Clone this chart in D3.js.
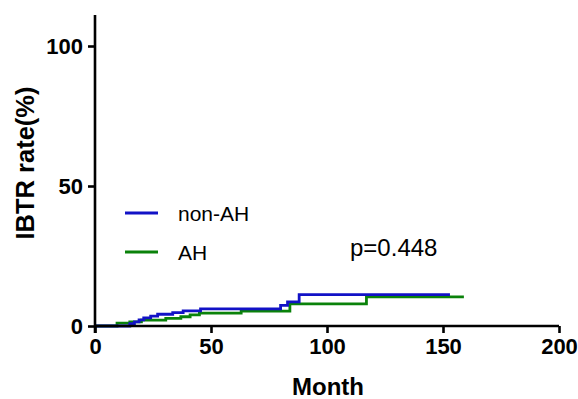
<!DOCTYPE html>
<html>
<head>
<meta charset="utf-8">
<script src="https://cdn.jsdelivr.net/npm/d3@7"></script>
<style>
  body { margin: 0; background: #fff; }
  text { font-family: "Liberation Sans", Arial, sans-serif; }
</style>
</head>
<body>
<svg id="chart" width="578" height="399"></svg>
<script>
// step points [month, rate %]
const nonAH = [[0, 0], [15, 0.8], [17, 1.5], [19, 2.2], [21, 2.9], [24, 3.5], [27, 4.2],
  [33.5, 4.8], [38, 5.4], [45.5, 6.1], [80, 7.4], [83, 8.6], [88, 11.2], [153, 11.2]];
const AH = [[0, 0], [9.5, 1.0], [15, 1.5], [20, 2.1], [30.5, 2.75], [37, 3.3], [41, 4.0],
  [45, 4.6], [63, 5.3], [84, 7.9], [117, 10.4], [159, 10.4]];
const xTicks = [0, 50, 100, 150, 200];
const yTicks = [0, 50, 100];
const pText = 'p=0.448';

const margin = { top: 15, left: 95 };
const svg = d3.select('#chart');

const x = d3.scaleLinear().domain([0, 200]).range([95, 559]);
const y = d3.scaleLinear().domain([0, 50]).range([326, 186]);

// curves
const line = d3.line()
  .x(d => x(d[0]))
  .y(d => y(d[1]))
  .curve(d3.curveStepAfter);

const series = [
  { name: 'AH', data: AH, color: '#0a820a' },
  { name: 'non-AH', data: nonAH, color: '#1212c6' }
];

svg.selectAll('path.curve')
  .data(series)
  .enter()
  .append('path')
  .attr('class', 'curve')
  .attr('d', d => line(d.data))
  .attr('fill', 'none')
  .attr('stroke', d => d.color)
  .attr('stroke-width', 2.8);

// axes
const xAxis = d3.axisBottom(x).tickValues(xTicks).tickSize(7).tickPadding(5);
const yAxis = d3.axisLeft(y).tickValues(yTicks).tickSize(7).tickPadding(5);

const gx = svg.append('g')
  .attr('transform', `translate(0, ${y(0)})`)
  .call(xAxis);
const gy = svg.append('g')
  .attr('transform', `translate(${x(0)}, 0)`)
  .call(yAxis);

gy.select('.domain').attr('d', `M0,${margin.top}V${y(0) + 7}`);
gx.select('.domain').attr('d', `M${x(0)},0H${x(200)}`);

[gx, gy].forEach(g => {
  g.selectAll('.domain, .tick line')
    .attr('stroke', '#000')
    .attr('stroke-width', 2.6);
  g.selectAll('.tick text')
    .attr('fill', '#000')
    .style('font-size', '22px')
    .style('font-weight', 'bold')
    .style('font-family', '"Liberation Sans", Arial, sans-serif');
});

// axis titles
svg.append('text')
  .attr('x', 328)
  .attr('y', 395)
  .attr('text-anchor', 'middle')
  .style('font-size', '24px')
  .style('font-weight', 'bold')
  .text('Month');

svg.append('text')
  .attr('transform', 'translate(34, 163) rotate(-90)')
  .attr('text-anchor', 'middle')
  .style('font-size', '25.5px')
  .style('font-weight', 'bold')
  .text('IBTR rate(%)');

// legend
const legend = svg.append('g');
[series[1], series[0]].forEach((s, i) => {
  const ly = 213 + i * 39;
  legend.append('line')
    .attr('x1', 125).attr('x2', 158)
    .attr('y1', ly).attr('y2', ly)
    .attr('stroke', s.color)
    .attr('stroke-width', 2.8);
  legend.append('text')
    .attr('x', 178)
    .attr('y', ly + 8)
    .style('font-size', '21px')
    .text(s.name);
});

svg.append('text')
  .attr('x', 350)
  .attr('y', 256)
  .style('font-size', '24px')
  .text(pText);
</script>
</body>
</html>
